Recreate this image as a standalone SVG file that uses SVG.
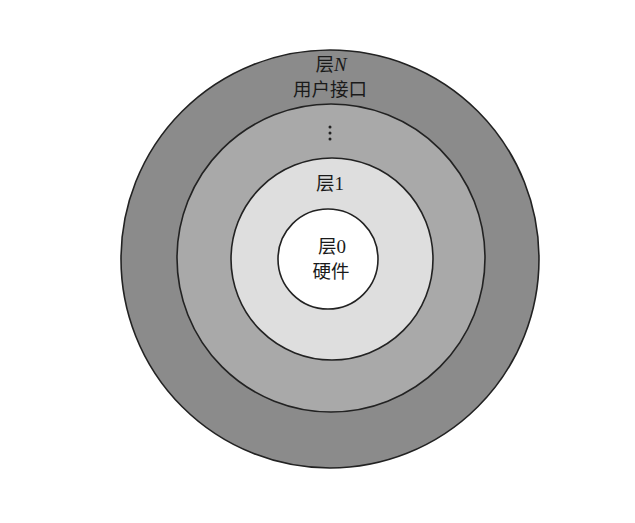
<svg xmlns="http://www.w3.org/2000/svg" width="635" height="523" viewBox="0 0 635 523">
  <style>
    .ring { stroke: #222; stroke-width: 1.6; }
    .cjk { font-family: "Noto Sans CJK SC", "Liberation Serif", serif; font-size: 18.5px; fill: #1a1a1a; text-anchor: middle; }
    .latin { font-family: "Liberation Serif", serif; font-size: 19px; }
  </style>
  <rect x="0" y="0" width="635" height="523" fill="#ffffff"/>
  <g id="layerN">
    <circle class="ring" cx="330" cy="259" r="209" fill="#8b8b8b"/>
    <text class="cjk" x="331" y="70.5">层<tspan class="latin" font-style="italic">N</tspan></text>
    <text class="cjk" x="330" y="95.5">用户接口</text>
  </g>
  <g id="layerDots">
    <circle class="ring" cx="331" cy="258" r="154" fill="#a9a9a9"/>
    <g fill="#222">
      <circle cx="330" cy="127" r="1.5"/>
      <circle cx="330" cy="133" r="1.5"/>
      <circle cx="330" cy="139" r="1.5"/>
    </g>
  </g>
  <g id="layer1">
    <circle class="ring" cx="332" cy="259" r="101" fill="#dedede"/>
    <text class="cjk" x="330" y="190">层<tspan class="latin">1</tspan></text>
  </g>
  <g id="layer0">
    <circle class="ring" cx="328" cy="259" r="50" fill="#ffffff"/>
    <text class="cjk" x="332" y="253">层<tspan class="latin">0</tspan></text>
    <text class="cjk" x="331" y="278">硬件</text>
  </g>
  <g id="connectors"/>
</svg>
